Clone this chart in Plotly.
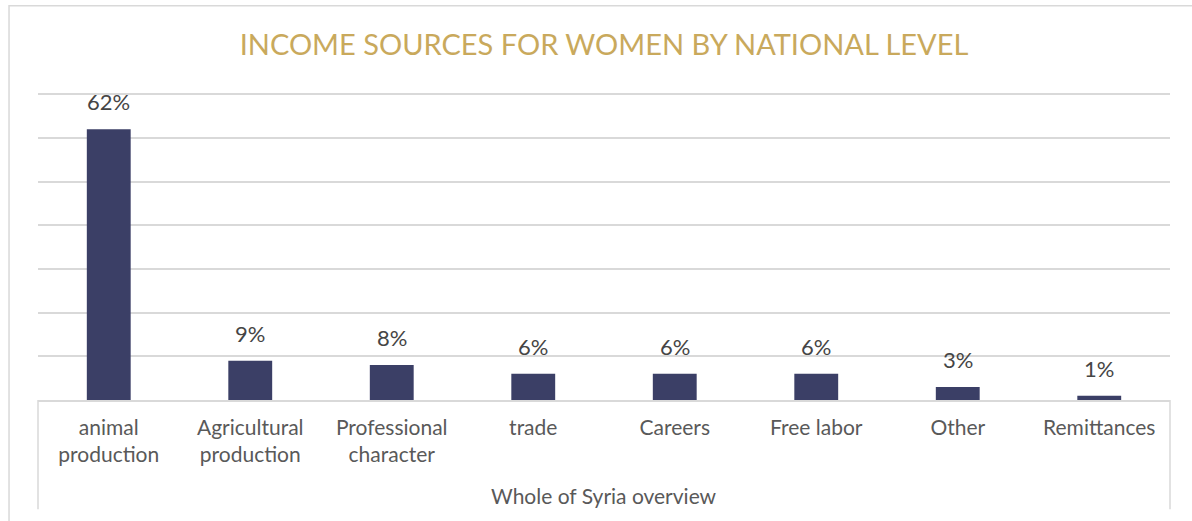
import plotly.graph_objects as go

categories = ["animal<br>production", "Agricultural<br>production", "Professional<br>character",
              "trade", "Careers", "Free labor", "Other", "Remittances"]
values = [62, 9, 8, 6, 6, 6, 3, 1]
group_label = "Whole of Syria overview"
title_text = "INCOME SOURCES FOR WOMEN BY NATIONAL LEVEL"

FONT = "Lato, 'Open Sans', sans-serif"
BAR = "#3b3f66"
GRID = "#d9d9d9"

fig = go.Figure(
    go.Bar(
        x=categories,
        y=values,
        marker=dict(color=BAR, line=dict(width=0)),
        width=0.31,
        hoverinfo="x+y",
    )
)

# Value labels above each bar
for cat, v in zip(categories, values):
    fig.add_annotation(
        x=cat,
        y=v,
        xref="x",
        yref="y",
        text=f"{v}%",
        showarrow=False,
        yanchor="bottom",
        yshift=12,
        font=dict(family=FONT, size=22, color="#454545"),
    )

fig.update_layout(
    width=1192,
    height=521,
    margin=dict(l=38, r=22, t=92, b=121),
    paper_bgcolor="white",
    plot_bgcolor="white",
    showlegend=False,
    title=dict(
        text=title_text,
        x=0.5,
        xref="paper",
        xanchor="center",
        y=0.9136,
        yref="container",
        yanchor="middle",
        font=dict(family=FONT, size=29, color="#c9a95c"),
    ),
    yaxis=dict(
        range=[0, 70.5],
        tickvals=[10, 20, 30, 40, 50, 60, 70],
        showticklabels=False,
        showgrid=True,
        gridcolor=GRID,
        gridwidth=1.5,
        zeroline=False,
        showline=False,
        fixedrange=True,
    ),
    xaxis=dict(
        showline=True,
        linecolor=GRID,
        linewidth=1.5,
        ticks="",
        tickfont=dict(family=FONT, size=21, color="#595959"),
        ticklabelstandoff=8,
        fixedrange=True,
    ),
)

# Group label beneath the categories
fig.add_annotation(
    text=group_label,
    x=0.5,
    xref="paper",
    y=-0.31,
    yref="paper",
    yanchor="middle",
    showarrow=False,
    font=dict(family=FONT, size=21, color="#595959"),
)

# Vertical dividers bounding the category group
for xd in (0, 1):
    fig.add_shape(
        type="line",
        xref="x domain",
        yref="paper",
        x0=xd, x1=xd,
        y0=0, y1=-0.355,
        line=dict(color=GRID, width=1.5),
    )

# Outer chart frame
fig.add_shape(
    type="rect",
    xref="paper",
    yref="paper",
    x0=-0.0256, x1=1.03,
    y0=-0.6, y1=1.28,
    line=dict(color=GRID, width=1.5),
    fillcolor="rgba(0,0,0,0)",
    layer="below",
)

fig.write_html("out.html")
